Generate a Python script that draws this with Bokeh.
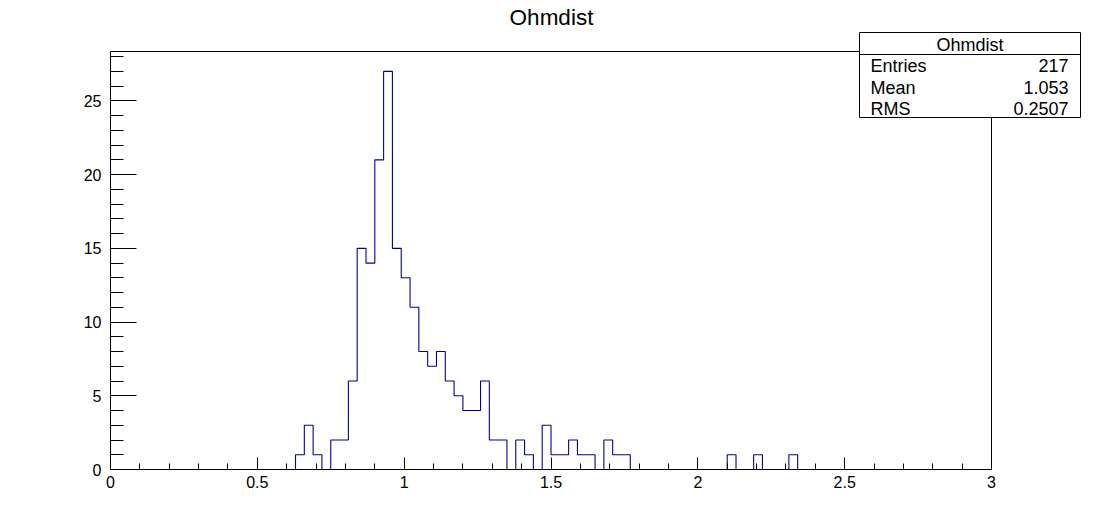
from bokeh.plotting import figure
from bokeh.models import Range1d, Label, BoxAnnotation, FixedTicker
from bokeh.layouts import column, row
from bokeh.embed import file_html
from bokeh.resources import INLINE

# ---- data ----
title_text = "Ohmdist"
x_min, x_max = 0.0, 3.0
n_bins = 100
counts = [
    0, 0, 0, 0, 0, 0, 0, 0, 0, 0,
    0, 0, 0, 0, 0, 0, 0, 0, 0, 0,
    0, 1, 3, 1, 0, 2, 2, 6, 15, 14,
    21, 27, 15, 13, 11, 8, 7, 8, 6, 5,
    4, 4, 6, 2, 2, 0, 2, 1, 0, 3,
    1, 1, 2, 1, 1, 0, 2, 1, 1, 0,
    0, 0, 0, 0, 0, 0, 0, 0, 0, 0,
    1, 0, 0, 1, 0, 0, 0, 1, 0, 0,
    0, 0, 0, 0, 0, 0, 0, 0, 0, 0,
    0, 0, 0, 0, 0, 0, 0, 0, 0, 0,
]
stats_labels = ["Entries", "Mean", "RMS"]
stats_values = ["217", "1.053", "0.2507"]
x_major_ticks = [0, 0.5, 1, 1.5, 2, 2.5, 3]
y_major_ticks = [0, 5, 10, 15, 20, 25]

FONT = "Liberation Sans"
W, H = 1102, 522
L, R, T, B = 110, 111, 51, 53

bw = (x_max - x_min) / n_bins
edges = [x_min + i * bw for i in range(n_bins + 1)]
ymax = max(counts) * 1.05

p = figure(width=W, height=H, output_backend="svg", toolbar_location=None,
           x_range=Range1d(x_min, x_max), y_range=Range1d(0, ymax),
           min_border_left=L, min_border_right=R, min_border_top=T, min_border_bottom=B)
p.title = None
p.grid.visible = False
p.background_fill_color = "white"
p.border_fill_color = "white"
p.outline_line_color = "black"
p.outline_line_width = 1

p.step(x=edges, y=counts + [counts[-1]], mode="after", line_color="#000099", line_width=1.1)

for ax in (p.xaxis[0], p.yaxis[0]):
    ax.axis_line_color = "black"
    ax.major_tick_line_color = "black"
    ax.minor_tick_line_color = "black"
    ax.major_tick_out = 0
    ax.minor_tick_out = 0
    ax.major_label_text_font = FONT
    ax.major_label_text_font_size = "16px"
    ax.major_label_text_color = "black"

xa = p.xaxis[0]
xa.ticker = FixedTicker(ticks=x_major_ticks,
                        minor_ticks=[round(0.1 * i, 2) for i in range(31)])
xa.major_tick_in = 12
xa.minor_tick_in = 6
xa.major_label_standoff = 6
xa.major_label_overrides = {0: "0", 0.5: "0.5", 1: "1", 1.5: "1.5", 2: "2", 2.5: "2.5", 3: "3"}

ya = p.yaxis[0]
ya.ticker = FixedTicker(ticks=y_major_ticks, minor_ticks=list(range(0, 29)))
ya.major_tick_in = 26
ya.minor_tick_in = 13
ya.major_label_standoff = 9

# ---- overlay in canvas pixels (title + stats box), drawn on top, unclipped ----
o = figure(width=W, height=H, output_backend="svg", toolbar_location=None,
           x_range=Range1d(0, W), y_range=Range1d(H, 0),
           x_axis_type=None, y_axis_type=None, min_border=0)
o.title = None
o.grid.visible = False
o.outline_line_color = None
o.background_fill_alpha = 0
o.border_fill_alpha = 0

o.add_layout(Label(x=551, y=17, text=title_text, text_font=FONT, text_font_size="22.5px",
                   text_align="center", text_baseline="middle", text_color="black"))

bx0, bx1, by0, by1, hy = 859, 1080, 32, 117, 54
o.add_layout(BoxAnnotation(left=bx0, right=bx1, top=by0, bottom=by1,
                           fill_color="white", fill_alpha=1.0,
                           line_color="black", line_width=1, line_alpha=1.0))
o.add_layout(BoxAnnotation(left=bx0, right=bx1, top=hy, bottom=hy,
                           fill_alpha=0, line_color="black", line_width=1, line_alpha=1.0))
o.add_layout(Label(x=(bx0 + bx1) / 2, y=44, text=title_text, text_font=FONT,
                   text_font_size="18px", text_align="center", text_baseline="middle",
                   text_color="black"))
row_y = [65, 87, 108]
for lab, val, ry in zip(stats_labels, stats_values, row_y):
    o.add_layout(Label(x=870, y=ry, text=lab, text_font=FONT, text_font_size="18px",
                       text_align="left", text_baseline="middle", text_color="black"))
    o.add_layout(Label(x=1068, y=ry, text=val, text_font=FONT, text_font_size="18px",
                       text_align="right", text_baseline="middle", text_color="black"))

overlay = row(o)
overlay.styles = {"position": "absolute", "left": "0px", "top": "0px", "pointer-events": "none"}
layout = column(p, overlay)
open("out.html", "w").write(file_html(layout, INLINE))
